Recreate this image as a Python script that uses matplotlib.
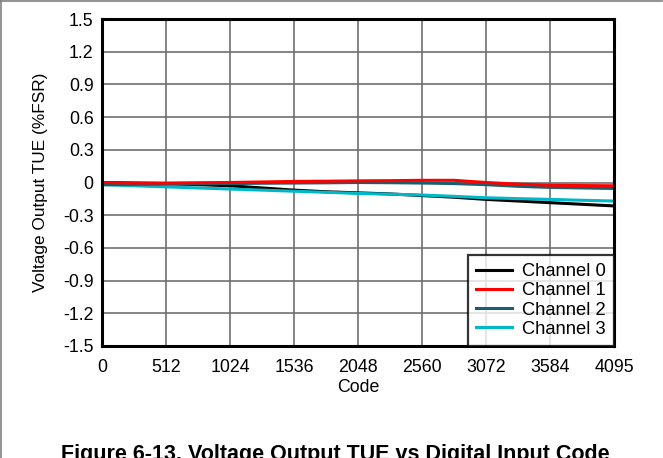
import matplotlib.pyplot as plt
from matplotlib.lines import Line2D

plt.rcParams['font.family'] = ['Liberation Sans', 'DejaVu Sans']

# codes sampled every 256 LSB
codes = [0, 256, 512, 768, 1024, 1280, 1536, 1792, 2048, 2304, 2560, 2816,
         3072, 3328, 3584, 3840, 4095]

ch0 = [0.0, -0.005, -0.01, -0.02, -0.03, -0.05, -0.07, -0.085, -0.095, -0.105,
       -0.12, -0.135, -0.155, -0.17, -0.185, -0.2, -0.215]
ch1 = [0.0, -0.005, -0.005, -0.002, 0.0, 0.005, 0.01, 0.012, 0.015, 0.017,
       0.02, 0.02, 0.0, -0.015, -0.025, -0.028, -0.03]
ch2 = [-0.02, -0.017, -0.015, -0.012, -0.01, -0.007, -0.005, -0.003, 0.0, -0.002,
       -0.005, -0.01, -0.02, -0.035, -0.045, -0.05, -0.055]
ch3 = [-0.02, -0.03, -0.04, -0.05, -0.06, -0.07, -0.08, -0.09, -0.1, -0.107,
       -0.115, -0.127, -0.14, -0.148, -0.155, -0.163, -0.17]

labels = ['Channel 0', 'Channel 1', 'Channel 2', 'Channel 3']
colors = ['#000000', '#ff0000', '#1b5e6e', '#00b8c8']

x_ticks = [0, 512, 1024, 1536, 2048, 2560, 3072, 3584, 4095]
y_ticks = [-1.5, -1.2, -0.9, -0.6, -0.3, 0, 0.3, 0.6, 0.9, 1.2, 1.5]
y_tick_labels = ['-1.5', '-1.2', '-0.9', '-0.6', '-0.3', '0',
                 '0.3', '0.6', '0.9', '1.2', '1.5']

fig = plt.figure(figsize=(6.63, 4.58), dpi=100)
ax = fig.add_axes([102 / 663, 1 - 346 / 458, 512 / 663, 327 / 458])

for ys, c in zip([ch0, ch3, ch2, ch1], [colors[0], colors[3], colors[2], colors[1]]):
    ax.plot(codes, ys, color=c, lw=2.2, solid_capstyle='butt')

ax.set_xlim(0, 4095)
ax.set_ylim(-1.5, 1.5)
ax.set_xticks(x_ticks)
ax.set_yticks(y_ticks)
ax.set_yticklabels(y_tick_labels)
ax.tick_params(axis='x', length=0, labelsize=12.8, pad=9.5)
ax.tick_params(axis='y', length=0, labelsize=12.8, pad=6)
ax.grid(True, color='#707070', lw=1.2)
ax.set_axisbelow(True)
for s in ax.spines.values():
    s.set_linewidth(2.2)

ax.set_xlabel('Code', fontsize=12.8, labelpad=2)
ax.set_ylabel('Voltage Output TUE (%FSR)', fontsize=12.4, labelpad=11)

handles = [Line2D([], [], color=c, lw=2.2) for c in colors]
leg = ax.legend(handles, labels, loc='lower right', fontsize=13.2, frameon=True,
                fancybox=False, borderaxespad=0, handlelength=1.95,
                labelspacing=0.12, borderpad=0.45, handletextpad=0.55)
leg.get_frame().set_edgecolor('black')
leg.get_frame().set_linewidth(1.6)

fig.text(0.506, -0.004, 'Figure 6-13. Voltage Output TUE vs Digital Input Code',
         ha='center', va='baseline', fontsize=15.5, fontweight='bold')

# page frame lines on left and top
fig.add_artist(Line2D([0.001, 0.001], [0, 0.998], color='#808080', lw=1.2,
                      transform=fig.transFigure))
fig.add_artist(Line2D([0, 0.998], [0.997, 0.997], color='#808080', lw=1.2,
                      transform=fig.transFigure))

fig.savefig('out.png', dpi=100)
